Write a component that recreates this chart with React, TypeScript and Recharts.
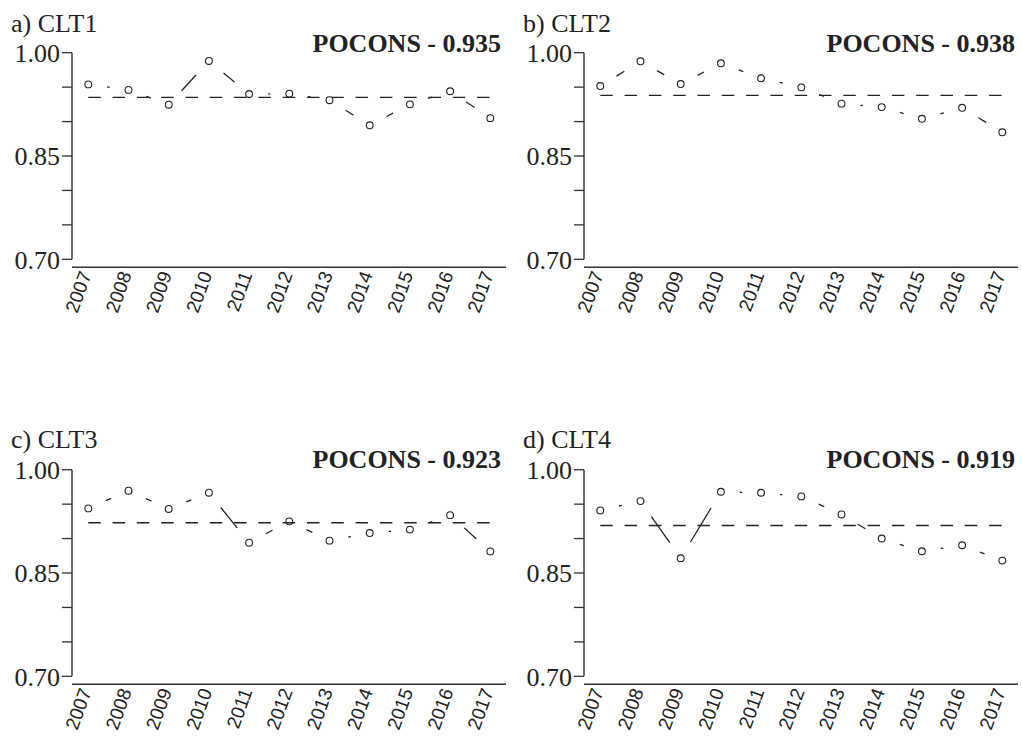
import React from 'react';
import { LineChart, Line, XAxis, YAxis, ReferenceLine } from 'recharts';

const years = [2007, 2008, 2009, 2010, 2011, 2012, 2013, 2014, 2015, 2016, 2017];
const clt1 = [0.954, 0.946, 0.9245, 0.988, 0.940, 0.9405, 0.931, 0.8946, 0.925, 0.944, 0.905];
const clt2 = [0.9516, 0.9875, 0.9545, 0.9846, 0.9628, 0.9497, 0.926, 0.921, 0.904, 0.920, 0.8844];
const clt3 = [0.9438, 0.9695, 0.943, 0.9666, 0.894, 0.925, 0.897, 0.908, 0.913, 0.934, 0.8814];
const clt4 = [0.9409, 0.9544, 0.8714, 0.968, 0.9665, 0.9612, 0.935, 0.900, 0.8816, 0.8903, 0.868];
const poconsValues = [0.935, 0.938, 0.923, 0.919];
const panelLetters = ['a)', 'b)', 'c)', 'd)'];
const clusterNames = ['CLT1', 'CLT2', 'CLT3', 'CLT4'];
const yTicks = [0.7, 0.75, 0.8, 0.85, 0.9, 0.95, 1.0];
const yTickLabels = ['0.70', '', '', '0.85', '', '', '1.00'];

const X_DOMAIN: [number, number] = [2006.595, 2017.39];
const Y_DOMAIN: [number, number] = [0.6884, 1.0];
const GAP = 19;
const INK = '#222';

const allSeries = [clt1, clt2, clt3, clt4];

const panelsLayout = [
  { left: 0, top: 0, h: 330 },
  { left: 512, top: 0, h: 330 },
  { left: 0, top: 417.3, h: 320 },
  { left: 512, top: 417.3, h: 320 },
];

const GapSegment = (props: any) => {
  const { x1, y1, x2, y2 } = props;
  const dx = x2 - x1;
  const dy = y2 - y1;
  const len = Math.hypot(dx, dy);
  if (!isFinite(len) || len <= 2 * GAP) return <g />;
  const ux = dx / len;
  const uy = dy / len;
  return (
    <line
      x1={x1 + ux * GAP}
      y1={y1 + uy * GAP}
      x2={x2 - ux * GAP}
      y2={y2 - uy * GAP}
      stroke={INK}
      strokeWidth={1.3}
    />
  );
};

const YearTick = (props: any) => {
  const { x, y, payload } = props;
  const ax = x + 3.5;
  const ay = y - 1;
  return (
    <text
      x={ax}
      y={ay}
      transform={`rotate(-70, ${ax}, ${ay})`}
      textAnchor="end"
      fontFamily="Liberation Sans, Arial, sans-serif"
      fontSize={19}
      fill={INK}
    >
      {payload.value}
    </text>
  );
};

const yFormatter = (v: number) => {
  const idx = yTicks.findIndex((t) => Math.abs(t - v) < 1e-6);
  return idx >= 0 ? yTickLabels[idx] : '';
};

function Panel({ series, pocons, h }: { series: number[]; pocons: number; h: number }) {
  const rows = years.map((year, i) => ({ year, v: series[i] }));
  const marginTop = 52.7;
  const marginBottom = 2.7;
  const plotH = 214.6;
  const xh = h - marginTop - marginBottom - plotH;
  return (
    <LineChart
      width={510}
      height={h}
      data={rows}
      margin={{ top: marginTop, right: 4, bottom: marginBottom, left: 10 }}
    >
      <XAxis
        type="number"
        dataKey="year"
        domain={X_DOMAIN}
        ticks={years}
        interval={0}
        allowDataOverflow
        tickLine={false}
        axisLine={{ stroke: '#333', strokeWidth: 1.6 }}
        height={xh}
        tick={<YearTick />}
      />
      <YAxis
        type="number"
        domain={Y_DOMAIN}
        ticks={yTicks}
        interval={0}
        allowDataOverflow
        tickFormatter={yFormatter}
        axisLine={false}
        tickLine={{ stroke: '#333', strokeWidth: 1.3 }}
        tickSize={10}
        width={62}
        tick={{ fontFamily: 'Liberation Serif, Times New Roman, serif', fontSize: 26, fill: INK }}
      />
      <ReferenceLine
        segment={[
          { x: X_DOMAIN[0], y: yTicks[0] },
          { x: X_DOMAIN[0], y: yTicks[yTicks.length - 1] },
        ]}
        stroke="#333"
        strokeWidth={1.4}
      />
      <ReferenceLine
        segment={[
          { x: years[0], y: pocons },
          { x: years[years.length - 1], y: pocons },
        ]}
        stroke={INK}
        strokeWidth={1.3}
        strokeDasharray="12.5 11.8"
      />
      {years.slice(0, -1).map((yr, i) => (
        <ReferenceLine
          key={`seg-${i}`}
          segment={[
            { x: yr, y: series[i] },
            { x: years[i + 1], y: series[i + 1] },
          ]}
          stroke={INK}
          shape={GapSegment}
        />
      ))}
      <Line
        dataKey="v"
        stroke="none"
        isAnimationActive={false}
        activeDot={false}
        dot={{ r: 3.4, stroke: INK, strokeWidth: 1.1, fill: 'none' }}
      />
    </LineChart>
  );
}

const titlePos = [
  { tx: 11, ty: 32, px: 501, py: 51.7 },
  { tx: 523, ty: 32, px: 1015, py: 51.7 },
  { tx: 11, ty: 448.3, px: 501, py: 468.3 },
  { tx: 523, ty: 448.3, px: 1015, py: 468.3 },
];

export default function App() {
  return (
    <div
      style={{
        position: 'absolute',
        left: 0,
        top: 0,
        width: 1022,
        height: 738,
        background: '#fff',
        overflow: 'hidden',
      }}
    >
      {panelsLayout.map((p, i) => (
        <div key={i} style={{ position: 'absolute', left: p.left, top: p.top }}>
          <Panel series={allSeries[i]} pocons={poconsValues[i]} h={p.h} />
        </div>
      ))}
      <svg
        width={1022}
        height={738}
        style={{ position: 'absolute', left: 0, top: 0, pointerEvents: 'none' }}
      >
        {titlePos.map((t, i) => (
          <g key={i}>
            <text
              x={t.tx}
              y={t.ty}
              fontFamily="Liberation Serif, Times New Roman, serif"
              fontSize={26}
              fill={INK}
            >
              {`${panelLetters[i]} ${clusterNames[i]}`}
            </text>
            <text
              x={t.px}
              y={t.py}
              textAnchor="end"
              fontFamily="Liberation Serif, Times New Roman, serif"
              fontSize={26}
              fontWeight="bold"
              fill={INK}
            >
              {`POCONS - ${poconsValues[i].toFixed(3)}`}
            </text>
          </g>
        ))}
      </svg>
    </div>
  );
}
